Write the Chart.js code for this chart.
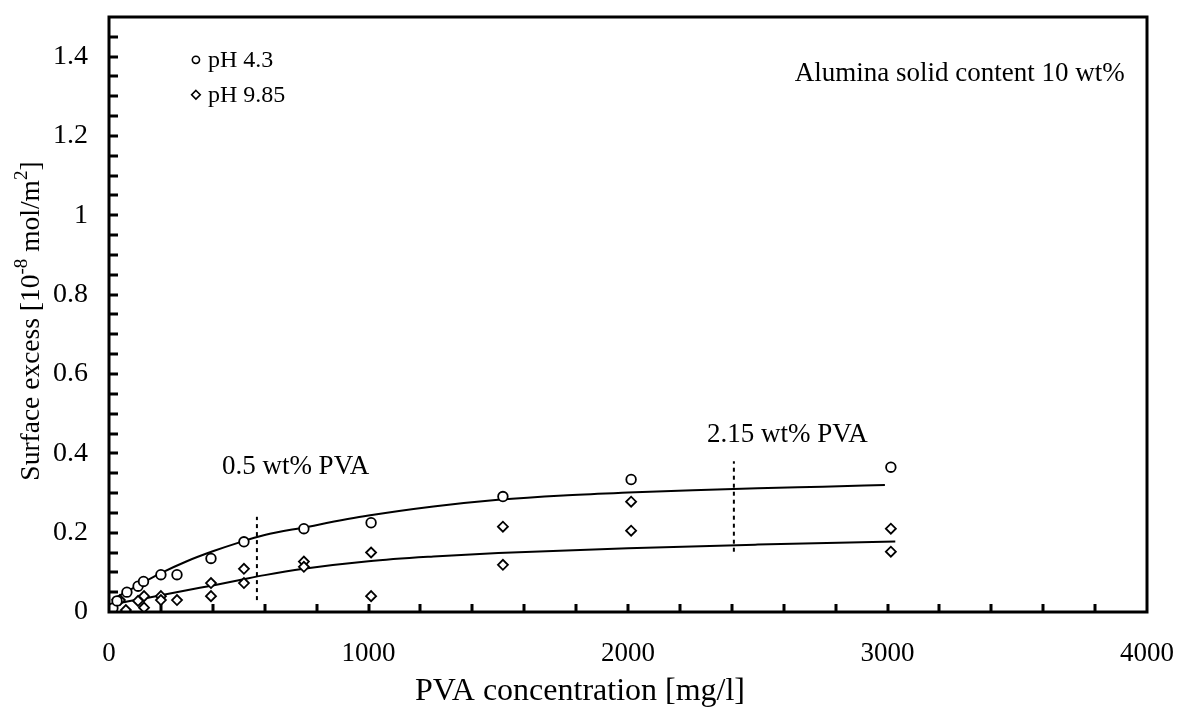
<!DOCTYPE html>
<html>
<head>
<meta charset="utf-8">
<script src="https://cdn.jsdelivr.net/npm/chart.js@4.4.1/dist/chart.umd.min.js"></script>
<style>
html, body { margin: 0; padding: 0; background: #fff; }
#wrap { width: 1178px; height: 710px; }
</style>
</head>
<body>
<div id="wrap"><canvas id="chart"></canvas></div>
<script>
// measured points, pH 4.3 (circles)
const ph43_x = [15, 31, 69, 112, 133, 200, 262, 393, 520, 751, 1010, 1518, 2012, 3013];
const ph43_y = [0.010, 0.028, 0.050, 0.065, 0.077, 0.094, 0.094, 0.135, 0.177, 0.210, 0.225, 0.291, 0.334, 0.365];

// measured points, pH 9.85 (diamonds)
const ph985_x = [42, 65, 112, 135, 135, 200, 200, 262, 393, 393, 520, 520, 751, 751, 1010, 1010, 1518, 1518, 2012, 2012, 3013, 3013];
const ph985_y = [0.030, 0.005, 0.028, 0.040, 0.011, 0.040, 0.030, 0.030, 0.073, 0.040, 0.109, 0.073, 0.127, 0.114, 0.150, 0.040, 0.215, 0.119, 0.278, 0.205, 0.210, 0.152];

// fitted curves
const fit43_x = [10, 50, 100, 200, 300, 400, 500, 600, 750, 1000, 1250, 1500, 1750, 2000, 2250, 2500, 2750, 2990];
const fit43_y = [0.030, 0.045, 0.063, 0.098, 0.128, 0.153, 0.175, 0.194, 0.213, 0.243, 0.266, 0.283, 0.294, 0.301, 0.307, 0.312, 0.316, 0.320];
const fit985_x = [5, 100, 200, 300, 400, 500, 600, 750, 1000, 1250, 1500, 2000, 2500, 3030];
const fit985_y = [0.018, 0.030, 0.042, 0.055, 0.067, 0.080, 0.093, 0.109, 0.128, 0.140, 0.149, 0.161, 0.170, 0.178];

// dotted markers for the PVA levels
const mark05_x = [570, 570];
const mark05_y = [0.03, 0.24];
const mark215_x = [2408, 2408];
const mark215_y = [0.152, 0.38];

const x_ticks = [0, 1000, 2000, 3000, 4000];
const y_ticks = [0, 0.2, 0.4, 0.6, 0.8, 1, 1.2, 1.4];

const SERIF = "'Liberation Serif', 'Times New Roman', serif";

function pts(xs, ys) {
    return xs.map((x, i) => ({x: x, y: ys[i]}));
}

function no_pad(scale) {
    scale.paddingTop = 0;
    scale.paddingBottom = 0;
    scale.paddingLeft = 0;
    scale.paddingRight = 0;
}

function draw_runs(ctx, runs, size) {
    // runs: [text, is_superscript]
    let total = 0;
    for (const [txt, sup] of runs) {
        ctx.font = `${sup ? Math.round(size * 0.68) : size}px ${SERIF}`;
        total += ctx.measureText(txt).width;
    }
    let x = -total / 2;
    ctx.textAlign = "left";
    ctx.textBaseline = "alphabetic";
    for (const [txt, sup] of runs) {
        ctx.font = `${sup ? Math.round(size * 0.68) : size}px ${SERIF}`;
        ctx.fillText(txt, x, sup ? -size * 0.42 : 0);
        x += ctx.measureText(txt).width;
    }
}

const decor = {
    id: "decor",
    afterDraw(chart) {
        const c = chart.ctx;
        const a = chart.chartArea;
        const xs = chart.scales.x;
        const ys = chart.scales.y;
        c.save();
        c.strokeStyle = "#000";
        c.fillStyle = "#000";

        // inward ticks
        c.lineWidth = 3;
        c.beginPath();
        for (let v = 0.05; v < 1.499; v += 0.05) {
            const py = Math.round(ys.getPixelForValue(v));
            c.moveTo(a.left, py);
            c.lineTo(a.left + 9, py);
        }
        for (let v = 200; v < 4000; v += 200) {
            const px = Math.round(xs.getPixelForValue(v));
            c.moveTo(px, a.bottom);
            c.lineTo(px, a.bottom - 8);
        }
        c.stroke();

        // frame
        c.lineWidth = 3;
        c.strokeRect(a.left, a.top, a.right - a.left, a.bottom - a.top);

        // legend
        const lx = xs.getPixelForValue(335);
        const ly1 = ys.getPixelForValue(1.392);
        const ly2 = ys.getPixelForValue(1.304);
        c.lineWidth = 1.6;
        c.beginPath();
        c.arc(lx, ly1, 3.6, 0, Math.PI * 2);
        c.stroke();
        c.beginPath();
        c.moveTo(lx, ly2 - 4.3);
        c.lineTo(lx + 4.3, ly2);
        c.lineTo(lx, ly2 + 4.3);
        c.lineTo(lx - 4.3, ly2);
        c.closePath();
        c.stroke();
        c.font = `24px ${SERIF}`;
        c.textAlign = "left";
        c.textBaseline = "middle";
        c.fillText("pH 4.3", lx + 12, ly1 + 1);
        c.fillText("pH 9.85", lx + 12, ly2 + 1);

        // annotations
        c.font = `27px ${SERIF}`;
        c.textBaseline = "alphabetic";
        c.fillText("Alumina solid content 10 wt%", xs.getPixelForValue(2643), ys.getPixelForValue(1.339));
        c.fillText("0.5 wt% PVA", xs.getPixelForValue(435), ys.getPixelForValue(0.347));
        c.fillText("2.15 wt% PVA", xs.getPixelForValue(2304), ys.getPixelForValue(0.428));

        // axis titles
        c.font = `32px ${SERIF}`;
        c.textAlign = "center";
        c.textBaseline = "middle";
        c.fillText("PVA concentration [mg/l]", 580, 692);

        c.translate(30, 321);
        c.rotate(-Math.PI / 2);
        c.translate(0, 9);
        draw_runs(c, [["Surface excess [10", false], ["-8", true], [" mol/m", false], ["2", true], ["]", false]], 27.5);
        c.restore();
    }
};

const chart_canvas = document.getElementById("chart");

const chart_config = {
    type: "scatter",
    data: {
        datasets: [
            {
                label: "pH 4.3",
                data: pts(ph43_x, ph43_y),
                pointStyle: "circle",
                pointRadius: 4.8,
                borderWidth: 1.8,
                borderColor: "#000",
                backgroundColor: "#fff",
                order: 1,
            },
            {
                label: "pH 9.85",
                data: pts(ph985_x, ph985_y),
                pointStyle: "rectRot",
                pointRadius: 5,
                borderWidth: 1.8,
                borderColor: "#000",
                backgroundColor: "#fff",
                order: 1,
            },
            {
                type: "line",
                label: "fit pH 4.3",
                data: pts(fit43_x, fit43_y),
                borderColor: "#000",
                borderWidth: 2,
                pointRadius: 0,
                cubicInterpolationMode: "monotone",
                fill: false,
                order: 2,
            },
            {
                type: "line",
                label: "fit pH 9.85",
                data: pts(fit985_x, fit985_y),
                borderColor: "#000",
                borderWidth: 2,
                pointRadius: 0,
                cubicInterpolationMode: "monotone",
                fill: false,
                order: 2,
            },
            {
                type: "line",
                label: "0.5 wt% PVA",
                data: pts(mark05_x, mark05_y),
                borderColor: "#000",
                borderWidth: 2,
                borderDash: [4, 4],
                pointRadius: 0,
                fill: false,
                order: 3,
            },
            {
                type: "line",
                label: "2.15 wt% PVA",
                data: pts(mark215_x, mark215_y),
                borderColor: "#000",
                borderWidth: 2,
                borderDash: [4, 4],
                pointRadius: 0,
                fill: false,
                order: 3,
            },
        ],
    },
    options: {
        responsive: true,
        maintainAspectRatio: false,
        animation: false,
        layout: {
            autoPadding: false,
            padding: {top: 17, right: 31, left: 0, bottom: 0},
        },
        plugins: {
            legend: {display: false},
            tooltip: {enabled: false},
        },
        scales: {
            x: {
                type: "linear",
                min: 0,
                max: 4000,
                afterFit: (scale) => { scale.height = 98; no_pad(scale); },
                grid: {display: false, drawTicks: false},
                border: {display: false},
                afterBuildTicks: (scale) => { scale.ticks = x_ticks.map(v => ({value: v})); },
                ticks: {
                    padding: 26,
                    color: "#000",
                    font: {family: SERIF, size: 27},
                    maxRotation: 0,
                    callback: (v) => String(v),
                },
            },
            y: {
                type: "linear",
                min: 0,
                max: 1.5,
                afterFit: (scale) => { scale.width = 109; no_pad(scale); },
                grid: {display: false, drawTicks: false},
                border: {display: false},
                afterBuildTicks: (scale) => { scale.ticks = y_ticks.map(v => ({value: v})); },
                ticks: {
                    padding: 21,
                    color: "#000",
                    font: {family: SERIF, size: 28},
                    callback: (v) => String(Number(v.toFixed(1))),
                },
            },
        },
    },
    plugins: [decor],
};

const chart = new Chart(chart_canvas, chart_config);
</script>
</body>
</html>
